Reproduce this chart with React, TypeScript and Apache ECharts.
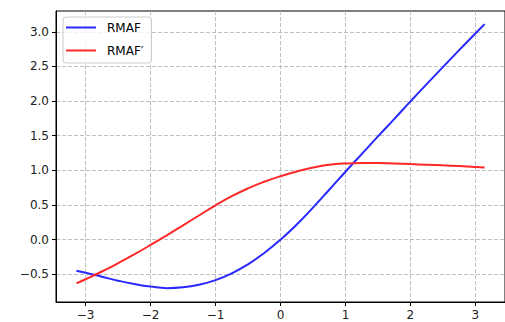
import React, { useEffect, useRef } from "react";
import * as echarts from "echarts";

const xs = [-3.1416, -3, -2.75, -2.5, -2.25, -2, -1.75, -1.5, -1.25, -1, -0.75, -0.5, -0.25, 0, 0.25, 0.5, 0.75, 1, 1.25, 1.5, 1.75, 2, 2.25, 2.5, 2.75, 3, 3.1416];
const rmaf = [-0.45, -0.478, -0.535, -0.592, -0.64, -0.677, -0.7, -0.688, -0.65, -0.585, -0.487, -0.356, -0.192, 0.0, 0.218, 0.463, 0.72, 0.98, 1.235, 1.49, 1.74, 1.995, 2.245, 2.49, 2.735, 2.975, 3.11];
const rmafPrime = [-0.631, -0.572, -0.46, -0.34, -0.212, -0.077, 0.063, 0.207, 0.352, 0.495, 0.627, 0.74, 0.835, 0.915, 0.983, 1.04, 1.08, 1.1, 1.107, 1.105, 1.098, 1.09, 1.082, 1.072, 1.062, 1.05, 1.043];
const xTicks = [-3, -2, -1, 0, 1, 2, 3];
const yTicks = [-0.5, 0, 0.5, 1.0, 1.5, 2.0, 2.5, 3.0];
const seriesNames = ["RMAF", "RMAF\u2032"];

const minus = (s: string) => s.replace("-", "\u2212");

export default function App() {
  const ref = useRef<HTMLDivElement>(null);
  useEffect(() => {
    if (!ref.current) return;
    const chart = echarts.init(ref.current, null, { renderer: "svg" });
    const font = "DejaVu Sans";
    const axisCommon = {
      type: "value" as const,
      axisLine: { show: true, onZero: false, lineStyle: { color: "#000", width: 1 } },
      axisTick: { show: true, inside: false, length: 4, lineStyle: { color: "#000", width: 1 } },
      splitLine: { show: true, lineStyle: { color: "#b0b0b0", width: 0.8, type: [4, 2] } },
    };
    chart.setOption({
      animation: false,
      backgroundColor: "#fff",
      grid: { left: 56, top: 11, width: 451, height: 291, show: true, borderColor: "#000", borderWidth: 1, containLabel: false },
      legend: {
        data: seriesNames,
        orient: "vertical",
        left: 63,
        top: 17,
        icon: "rect",
        itemWidth: 30,
        itemHeight: 2,
        itemGap: 9,
        padding: [3.5, 8, 5.5, 3],
        backgroundColor: "rgba(255,255,255,0.8)",
        borderColor: "#cccccc",
        borderWidth: 1,
        borderRadius: 3,
        textStyle: { fontFamily: font, fontSize: 12, color: "#000", lineHeight: 14, padding: [0, 0, 0, 6] },
      },
      xAxis: {
        ...axisCommon,
        min: -3.456,
        max: 3.456,
        axisTick: { ...axisCommon.axisTick, customValues: xTicks },
        axisLabel: {
          customValues: xTicks,
          margin: 7,
          fontFamily: font,
          fontSize: 12,
          color: "#222",
          formatter: (v: number) => minus(String(v)),
        },
      },
      yAxis: {
        ...axisCommon,
        min: -0.9,
        max: 3.3,
        axisTick: { ...axisCommon.axisTick, customValues: yTicks },
        axisLabel: {
          customValues: yTicks,
          margin: 7,
          fontFamily: font,
          fontSize: 12,
          color: "#222",
          formatter: (v: number) => minus(v.toFixed(1)),
        },
      },
      series: [
        {
          name: seriesNames[0],
          type: "line",
          data: xs.map((x, i) => [x, rmaf[i]]),
          smooth: true,
          showSymbol: false,
          color: "rgb(40,40,255)",
          lineStyle: { width: 2, color: "rgb(40,40,255)" },
        },
        {
          name: seriesNames[1],
          type: "line",
          data: xs.map((x, i) => [x, rmafPrime[i]]),
          smooth: true,
          showSymbol: false,
          color: "rgb(255,40,40)",
          lineStyle: { width: 2, color: "rgb(255,40,40)" },
        },
      ],
    });
    return () => chart.dispose();
  }, []);
  return <div ref={ref} style={{ position: "fixed", left: 0, top: 0, width: 505, height: 322 }} />;
}
